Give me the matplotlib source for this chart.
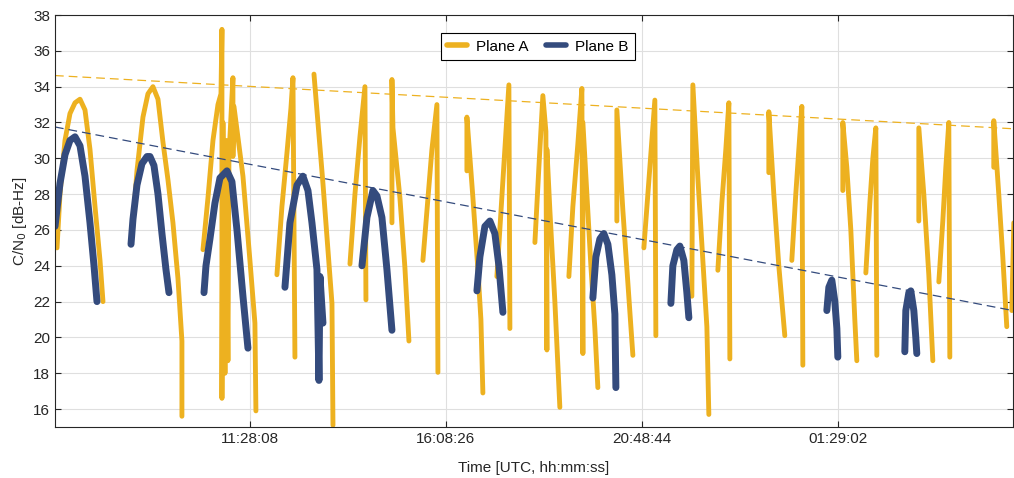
import numpy as np
import matplotlib
matplotlib.use("Agg")
from matplotlib import pyplot as plt

nan = np.nan

# time in hours since 00:00 of the first day (values > 24 are the next day)
plane_a_t = [6.869, 6.940, 7.059, 7.178, 7.298, 7.417, 7.536, 7.655, 7.775, 7.894, 7.965, nan,
             8.656, 8.775, 8.918, 9.037, 9.156, 9.276, 9.395, 9.514, 9.633, 9.752, 9.847, 9.847, nan,
             10.349, 10.468, 10.587, 10.706, 10.778, 10.801, 10.801, 10.825, 10.873, 10.897, 10.944,
             10.968, 11.063, 11.063, 11.087, 11.302, 11.468, 11.587, 11.611, nan,
             12.112, 12.231, 12.351, 12.446, 12.494, 12.541, nan,
             12.995, 13.066, 13.209, 13.376, 13.424, 13.448, nan,
             13.853, 13.972, 14.091, 14.210, 14.234, nan,
             14.854, 14.854, 14.878, 15.044, 15.163, 15.259, nan,
             15.592, 15.688, 15.807, 15.926, 15.950, nan,
             16.641, 16.641, 16.784, 16.903, 16.975, 17.022, nan,
             17.356, 17.452, 17.547, 17.642, 17.666, nan,
             18.262, 18.357, 18.452, 18.524, 18.548, 18.548, 18.619, 18.738, 18.857, nan,
             19.072, 19.167, 19.286, 19.382, 19.406, 19.406, 19.501, 19.597, 19.692, 19.763, nan,
             20.216, 20.216, 20.359, 20.526, 20.598, nan,
             20.860, 20.955, 21.051, 21.122, 21.146, nan,
             22.004, 22.028, 22.147, 22.266, 22.362, 22.409, nan,
             22.624, 22.719, 22.814, 22.886, 22.910, nan,
             23.839, 23.839, 23.958, 24.077, 24.220, nan,
             24.387, 24.482, 24.554, 24.626, 24.650, nan,
             25.603, 25.603, 25.698, 25.794, 25.889, 25.937, nan,
             26.152, 26.247, 26.319, 26.390, 26.414, nan,
             27.415, 27.415, 27.534, 27.653, 27.749, nan,
             27.892, 27.987, 28.059, 28.130, 28.154, nan,
             29.202, 29.202, 29.321, 29.417, 29.512, nan,
             29.632, 29.679]
plane_a_cn = [25.0, 28.0, 31.0, 32.5, 33.1, 33.3, 32.7, 30.5, 27.3, 24.3, 22.0, nan,
              25.6, 29.3, 32.3, 33.6, 34.0, 33.3, 30.9, 28.8, 26.4, 23.3, 19.8, 15.6, nan,
              24.9, 27.8, 31.0, 33.0, 33.6, 37.2, 16.6, 32.0, 18.0, 31.0, 18.7,
              30.1, 34.5, 30.1, 32.9, 29.0, 24.3, 20.8, 15.9, nan,
              23.5, 27.3, 30.3, 32.8, 34.5, 18.9, nan,
              34.7, 32.7, 28.6, 23.4, 21.9, 15.1, nan,
              24.1, 28.0, 31.2, 34.0, 22.1, nan,
              26.4, 34.4, 31.7, 27.8, 23.9, 19.8, nan,
              24.3, 27.1, 30.5, 33.0, 18.05, nan,
              29.3, 32.3, 27.8, 23.8, 21.0, 16.9, nan,
              23.4, 27.0, 30.5, 34.1, 20.5, nan,
              25.3, 29.5, 33.5, 31.5, 19.3, 30.5, 27.1, 22.0, 16.1, nan,
              23.4, 27.3, 30.8, 33.9, 19.1, 32.0, 28.0, 24.0, 20.5, 17.2, nan,
              26.5, 32.7, 27.1, 21.5, 19.0, nan,
              25.0, 28.0, 31.0, 33.25, 20.1, nan,
              22.3, 34.1, 28.9, 24.3, 20.6, 15.7, nan,
              23.75, 27.5, 30.5, 33.1, 18.8, nan,
              29.2, 32.6, 28.0, 24.0, 20.1, nan,
              24.3, 28.0, 30.5, 32.9, 18.45, nan,
              28.2, 32.0, 29.5, 26.0, 21.0, 18.7, nan,
              23.6, 27.5, 30.0, 31.7, 19.0, nan,
              26.5, 31.7, 28.0, 23.5, 18.7, nan,
              23.1, 26.5, 29.5, 32.0, 18.9, nan,
              29.5, 32.1, 28.0, 24.5, 20.6, nan,
              21.5, 26.4]

plane_b_t = [6.821, 6.940, 7.059, 7.178, 7.298, 7.417, 7.536, 7.655, 7.751, 7.822, nan,
             8.633, 8.680, 8.775, 8.894, 9.014, 9.085, 9.180, 9.276, 9.371, 9.466, 9.538, nan,
             10.373, 10.420, 10.515, 10.634, 10.754, 10.921, 11.039, 11.159, 11.302, 11.421, nan,
             12.303, 12.422, 12.589, 12.732, 12.852, 12.947, 13.066, 13.114, 13.138, 13.209, nan,
             14.139, 14.258, 14.401, 14.496, 14.615, 14.734, 14.854, nan,
             16.880, 16.951, 17.070, 17.189, 17.308, 17.404, 17.499, nan,
             19.644, 19.716, 19.811, 19.906, 20.002, 20.097, 20.169, 20.193, nan,
             21.504, 21.551, 21.647, 21.718, 21.813, 21.885, 21.933, nan,
             25.222, 25.270, 25.341, 25.413, 25.461, 25.484, nan,
             27.081, 27.105, 27.177, 27.224, 27.296, 27.343, 27.367]
plane_b_cn = [26.2, 28.6, 30.2, 31.0, 31.2, 30.7, 29.0, 26.4, 24.0, 22.0, nan,
              25.2, 26.6, 28.5, 29.7, 30.1, 30.1, 29.6, 28.0, 25.8, 23.8, 22.5, nan,
              22.5, 24.0, 25.5, 27.5, 28.9, 29.3, 28.7, 26.0, 22.3, 19.4, nan,
              22.8, 26.4, 28.5, 29.0, 28.2, 26.4, 23.8, 17.6, 23.4, 20.8, nan,
              24.0, 26.7, 28.2, 27.9, 26.7, 23.8, 20.4, nan,
              22.6, 24.5, 26.2, 26.5, 25.8, 24.0, 21.4, nan,
              22.2, 24.5, 25.5, 25.8, 25.2, 23.5, 21.3, 17.2, nan,
              21.9, 24.0, 24.9, 25.1, 24.3, 22.5, 21.1, nan,
              21.5, 22.8, 23.2, 22.0, 20.5, 18.9, nan,
              19.2, 21.5, 22.5, 22.6, 21.5, 20.0, 19.1]

# linear trend of the peaks (end points)
trend_t = [6.82, 29.66]
trend_a = [34.62, 31.65]
trend_b = [31.75, 21.5]

tick_t = [11.4689, 16.1406, 20.8122, 25.4839]
tick_labels = ["11:28:08", "16:08:26", "20:48:44", "01:29:02"]

col_a = "#EDB120"
col_b = "#344B7D"
dark = "#262626"

plt.rcParams["font.family"] = ["Liberation Sans", "DejaVu Sans"]
plt.rcParams["font.size"] = 11

fig = plt.figure(figsize=(10.14, 4.78), dpi=100)
ax = fig.add_axes([0.0542, 0.1067, 0.9448, 0.8619])

ax.plot(plane_a_t, plane_a_cn, color=col_a, lw=3.5, solid_capstyle="round",
        solid_joinstyle="round", label="Plane A")
ax.plot(plane_b_t, plane_b_cn, color=col_b, lw=5.0, solid_capstyle="round",
        solid_joinstyle="round", label="Plane B")
ax.plot(trend_t, trend_a, color=col_a, lw=0.9, dashes=(7, 4))
ax.plot(trend_t, trend_b, color=col_b, lw=0.9, dashes=(7, 4))

ax.set_xlim(6.82, 29.66)
ax.set_ylim(15, 38)
ax.set_yticks(np.arange(16, 39, 2))
ax.set_xticks(tick_t)
ax.set_xticklabels(tick_labels)
ax.grid(True, color="#DFDFDF", lw=0.8)
ax.set_axisbelow(True)
ax.tick_params(direction="in", length=4, top=True, right=True, colors=dark,
               labelsize=11, width=0.8)
for s in ax.spines.values():
    s.set_color(dark)
    s.set_linewidth(0.8)

ax.set_xlabel("Time [UTC, hh:mm:ss]", color=dark, fontsize=11, labelpad=11)
ax.set_ylabel("C/N$_0$ [dB-Hz]", color=dark, fontsize=11, labelpad=3)

leg = ax.legend(loc="upper center", bbox_to_anchor=(0.504, 0.957), ncol=2,
                fancybox=False, edgecolor="black", framealpha=1, fontsize=11,
                handlelength=1.3, columnspacing=1.1, borderpad=0.45,
                handletextpad=0.6, borderaxespad=0)
leg.get_frame().set_linewidth(0.8)
for h in leg.get_lines():
    h.set_linewidth(4)

fig.savefig("out.png", dpi=100)
